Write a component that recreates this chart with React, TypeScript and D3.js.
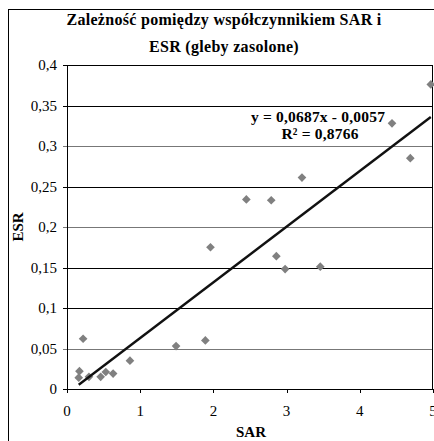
import { useEffect, useRef } from "react";
import * as d3 from "d3";

// SAR vs ESR, saline soils
const sar = [0.17, 0.16, 0.22, 0.3, 0.46, 0.53, 0.63, 0.86, 1.49, 1.89, 1.96, 2.45, 2.79, 2.86, 2.98, 3.21, 3.46, 4.44, 4.69, 4.97];
const esr = [0.022, 0.014, 0.062, 0.015, 0.015, 0.021, 0.019, 0.035, 0.053, 0.06, 0.175, 0.234, 0.233, 0.164, 0.148, 0.261, 0.151, 0.328, 0.285, 0.376];
const xTicks = [0, 1, 2, 3, 4, 5];
const yTicks = [0, 0.05, 0.1, 0.15, 0.2, 0.25, 0.3, 0.35, 0.4];
const slope = 0.0687;
const intercept = -0.0057;
const titleLines = ["Zależność pomiędzy współczynnikiem SAR i", "ESR (gleby zasolone)"];
const eqLines = ["y = 0,0687x - 0,0057", "R² = 0,8766"];

export default function App() {
  const svgRef = useRef<SVGSVGElement>(null);

  useEffect(() => {
    if (!svgRef.current) return;
    const svg = d3.select(svgRef.current);
    svg.selectAll("*").remove();

    const width = 434;
    const height = 441;
    const margin = { top: 65, right: 1, bottom: 52, left: 67 };
    const font = "'Liberation Serif', 'Times New Roman', serif";

    const x = d3.scaleLinear().domain([0, 5]).range([margin.left, width - margin.right]);
    const y = d3.scaleLinear().domain([0, 0.4]).range([height - margin.bottom, margin.top]);
    const fmt = (v: number) => String(+v.toFixed(2)).replace(".", ",");

    // outer chart border
    svg
      .append("rect")
      .attr("x", 8.5)
      .attr("y", 9.5)
      .attr("width", width)
      .attr("height", height)
      .attr("fill", "#fff")
      .attr("stroke", "#000")
      .attr("stroke-width", 1);

    // title
    svg
      .append("g")
      .selectAll("text")
      .data(titleLines)
      .join("text")
      .attr("x", 224)
      .attr("y", (d, i) => 19 + i * 27)
      .attr("dy", "0.35em")
      .attr("text-anchor", "middle")
      .attr("font-family", font)
      .attr("font-size", "16px")
      .attr("letter-spacing", "0.3px")
      .attr("font-weight", "bold")
      .text((d) => d);

    // gridlines
    svg
      .append("g")
      .selectAll("line")
      .data(yTicks)
      .join("line")
      .attr("x1", margin.left - 4)
      .attr("x2", width - margin.right)
      .attr("y1", (d) => Math.round(y(d)) + 0.5)
      .attr("y2", (d) => Math.round(y(d)) + 0.5)
      .attr("stroke", (d) => (d === 0.3 || d === 0.2 || d === 0.05 ? "#777" : "#000"))
      .attr("stroke-width", 1);

    // y axis line
    svg
      .append("line")
      .attr("x1", margin.left + 0.5)
      .attr("x2", margin.left + 0.5)
      .attr("y1", y(0.4))
      .attr("y2", y(0))
      .attr("stroke", "#000");

    // right edge
    svg
      .append("line")
      .attr("x1", width - margin.right - 0.5)
      .attr("x2", width - margin.right - 0.5)
      .attr("y1", y(0.4))
      .attr("y2", y(0))
      .attr("stroke", "#000");

    // x tick marks
    svg
      .append("g")
      .selectAll("line")
      .data(xTicks)
      .join("line")
      .attr("x1", (d) => Math.round(x(d)) + 0.5)
      .attr("x2", (d) => Math.round(x(d)) + 0.5)
      .attr("y1", y(0))
      .attr("y2", y(0) + 4)
      .attr("stroke", "#000");

    // y tick labels
    svg
      .append("g")
      .selectAll("text")
      .data(yTicks)
      .join("text")
      .attr("x", 57)
      .attr("y", (d) => y(d))
      .attr("dy", "0.35em")
      .attr("text-anchor", "end")
      .attr("font-family", font)
      .attr("font-size", "15px")
      .text((d) => fmt(d));

    // x tick labels
    svg
      .append("g")
      .selectAll("text")
      .data(xTicks)
      .join("text")
      .attr("x", (d) => x(d))
      .attr("y", 411)
      .attr("dy", "0.35em")
      .attr("text-anchor", "middle")
      .attr("font-family", font)
      .attr("font-size", "15px")
      .text((d) => fmt(d));

    // axis titles
    svg
      .append("text")
      .attr("x", 251)
      .attr("y", 432)
      .attr("dy", "0.35em")
      .attr("text-anchor", "middle")
      .attr("font-family", font)
      .attr("font-size", "15px")
      .attr("font-weight", "bold")
      .text("SAR");

    svg
      .append("text")
      .attr("transform", `translate(18, ${y(0.2)}) rotate(-90)`)
      .attr("dy", "0.35em")
      .attr("text-anchor", "middle")
      .attr("font-family", font)
      .attr("font-size", "15px")
      .attr("font-weight", "bold")
      .text("ESR");

    // points
    const pts = sar.map((s, i) => ({ s, e: esr[i] }));
    svg
      .append("g")
      .selectAll("path")
      .data(pts)
      .join("path")
      .attr("d", d3.symbol(d3.symbolDiamond2, 48))
      .attr("transform", (d) => `translate(${x(d.s)}, ${y(d.e)})`)
      .attr("fill", "#808080");

    // trend line
    const xMin = d3.min(sar) as number;
    const xMax = d3.max(sar) as number;
    svg
      .append("line")
      .attr("x1", x(xMin))
      .attr("y1", y(slope * xMin + intercept))
      .attr("x2", x(xMax))
      .attr("y2", y(slope * xMax + intercept))
      .attr("stroke", "#111")
      .attr("stroke-width", 2.4);

    // equation
    const eq = svg
      .append("text")
      .attr("font-family", font)
      .attr("font-size", "15.5px")
      .attr("letter-spacing", "0.2px")
      .attr("font-weight", "bold")
      .attr("text-anchor", "middle");
    eq.append("tspan").attr("x", 318).attr("y", 122).text(eqLines[0]);
    eq.append("tspan").attr("x", 320).attr("y", 139).text(eqLines[1]);
  }, []);

  return (
    <svg
      ref={svgRef}
      width={434}
      height={441}
      style={{ position: "absolute", left: 0, top: 0, background: "#fff" }}
    />
  );
}
